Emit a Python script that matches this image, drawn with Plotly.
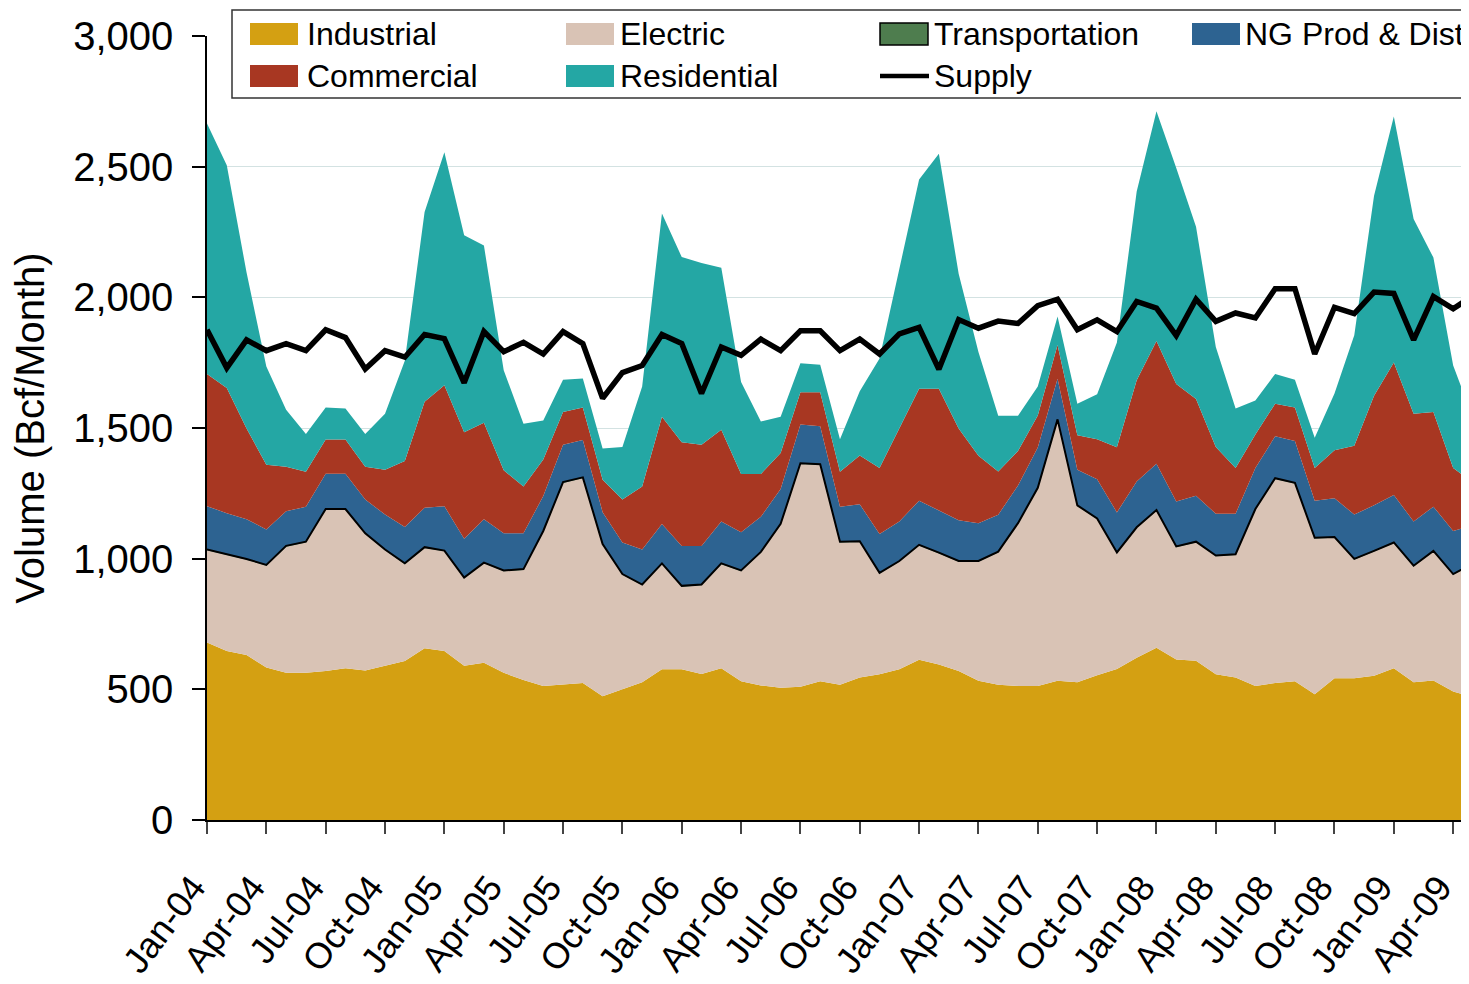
import plotly.graph_objects as go

FONT = "Liberation Sans, Arial, sans-serif"

MONTHS = [f"{m}-{y:02d}" for y in range(4, 10)
          for m in ["Jan", "Feb", "Mar", "Apr", "May", "Jun",
                    "Jul", "Aug", "Sep", "Oct", "Nov", "Dec"]][:65]

# Bcf per month, Jan-04 .. May-09
industrial = [679, 647, 631, 584, 563, 563, 570, 581, 572, 590, 608, 657,
              647, 590, 602, 563, 536, 513, 518, 524, 474, 501, 527, 577,
              577, 559, 581, 531, 515, 506, 510, 531, 518, 545, 558, 577,
              613, 595, 570, 533, 518, 513, 513, 533, 527, 554, 578, 621,
              659, 614, 609, 558, 545, 513, 524, 531, 481, 542, 542, 552,
              581, 527, 534, 492, 470]
electric = [353, 367, 365, 389, 483, 499, 617, 606, 522, 442, 371, 384,
            381, 335, 380, 389, 421, 590, 772, 784, 579, 437, 371, 402,
            316, 339, 398, 421, 508, 624, 852, 827, 544, 519, 385, 411,
            437, 425, 418, 455, 506, 620, 755, 997, 674, 597, 443, 496,
            524, 430, 453, 451, 469, 674, 781, 756, 596, 538, 454, 475,
            478, 443, 493, 446, 508]
transportation = [3, 3, 3, 3, 3, 3, 3, 3, 3, 3, 3, 3,
                  3, 3, 3, 3, 3, 3, 3, 3, 3, 3, 3, 3,
                  3, 3, 3, 3, 3, 3, 3, 3, 3, 3, 3, 3,
                  3, 3, 3, 3, 3, 3, 3, 3, 3, 3, 3, 3,
                  3, 3, 3, 3, 3, 3, 3, 3, 3, 3, 3, 3,
                  3, 3, 3, 3, 3]
ng_prod_dist = [166, 157, 152, 136, 132, 134, 135, 135, 129, 134, 139, 151,
                170, 148, 166, 142, 137, 134, 143, 143, 122, 121, 134, 151,
                152, 147, 160, 146, 134, 134, 148, 146, 134, 141, 148, 151,
                169, 160, 156, 145, 141, 144, 154, 155, 136, 150, 153, 175,
                177, 172, 176, 160, 155, 157, 160, 160, 142, 148, 170, 174,
                182, 169, 169, 165, 147]
commercial = [506, 479, 347, 247, 171, 134, 131, 131, 126, 171, 253, 405,
              463, 408, 369, 241, 179, 139, 125, 124, 124, 164, 241, 410,
              397, 388, 351, 223, 164, 137, 124, 130, 134, 187, 253, 356,
              428, 467, 351, 258, 166, 132, 123, 130, 132, 153, 249, 388,
              470, 449, 370, 255, 175, 128, 125, 128, 125, 184, 263, 419,
              507, 413, 362, 241, 163]
residential = [958, 852, 597, 376, 218, 144, 122, 119, 125, 215, 383, 727,
               891, 754, 678, 383, 240, 150, 124, 111, 120, 201, 383, 778,
               709, 695, 620, 352, 201, 139, 111, 105, 124, 246, 419, 615,
               801, 899, 592, 397, 213, 135, 111, 109, 121, 172, 401, 722,
               879, 827, 659, 383, 228, 130, 114, 107, 116, 217, 423, 766,
               941, 745, 591, 392, 247]
supply = [1876, 1730, 1837, 1796, 1823, 1796, 1876, 1846, 1726, 1796, 1771, 1858,
          1842, 1673, 1869, 1792, 1828, 1783, 1869, 1823, 1614, 1712, 1739, 1858,
          1823, 1632, 1810, 1778, 1840, 1796, 1872, 1872, 1796, 1840, 1783, 1860,
          1885, 1725, 1915, 1882, 1909, 1900, 1968, 1993, 1876, 1914, 1869, 1984,
          1959, 1854, 1993, 1908, 1940, 1921, 2033, 2033, 1783, 1962, 1938, 2020,
          2015, 1837, 2003, 1956, 2007]

SERIES = [
    ("Industrial", industrial, "#D4A012"),
    ("Electric", electric, "#D9C3B5"),
    ("Transportation", transportation, "#4E7D4E"),
    ("NG Prod & Dist", ng_prod_dist, "#2D6391"),
    ("Commercial", commercial, "#A83722"),
    ("Residential", residential, "#24A7A4"),
]

fig = go.Figure()
for name, vals, color in SERIES:
    is_tr = name == "Transportation"
    fig.add_trace(go.Scatter(
        x=MONTHS, y=vals, name=name, stackgroup="use",
        mode="lines", fillcolor=color,
        line=dict(color="black" if is_tr else color, width=2 if is_tr else 0),
        showlegend=False,
    ))
fig.add_trace(go.Scatter(
    x=MONTHS, y=supply, name="Supply", mode="lines",
    line=dict(color="black", width=5.5), showlegend=False,
))

# page body adds an 8px margin, so the figure is laid out 8px smaller
OFF = 8
FIG_W, FIG_H = 1469 - OFF, 984 - OFF
L, T, W, H = 207 - OFF, 36 - OFF, 1262, 784


def px(x):
    return (x - OFF - L) / W


def py(y):
    return (T + H - (y - OFF)) / H


# hand-built legend box (reference pixel positions)
shapes = [dict(type="rect", xref="paper", yref="paper",
               x0=px(232), x1=px(1490), y0=py(98), y1=py(10),
               line=dict(color="#333333", width=1.5), fillcolor="white", layer="above")]
annotations = []
# swatch left edge, text left edge, row centre
legend_pos = {
    "Industrial": (250, 305, 34), "Electric": (566, 618, 34),
    "Transportation": (880, 932, 34), "NG Prod & Dist": (1192, 1243, 34),
    "Commercial": (250, 305, 76), "Residential": (566, 618, 76),
    "Supply": (880, 932, 76),
}
for name, vals, color in SERIES:
    x0, _, yc = legend_pos[name]
    shapes.append(dict(type="rect", xref="paper", yref="paper", layer="above",
                       x0=px(x0), x1=px(x0 + 48), y0=py(yc + 11), y1=py(yc - 11),
                       fillcolor=color,
                       line=dict(color="black", width=1.5) if name == "Transportation"
                       else dict(width=0)))
x0, _, yc = legend_pos["Supply"]
shapes.append(dict(type="line", xref="paper", yref="paper", layer="above",
                   x0=px(x0), x1=px(x0 + 49), y0=py(yc), y1=py(yc),
                   line=dict(color="black", width=4.5)))
for name, (_, xt, yc) in legend_pos.items():
    annotations.append(dict(text=name, xref="paper", yref="paper",
                            x=px(xt), y=py(yc), xanchor="left", yanchor="middle",
                            showarrow=False, font=dict(size=32, color="black", family=FONT)))

fig.update_layout(
    width=FIG_W, height=FIG_H,
    margin=dict(l=L, r=FIG_W - L - W, t=T, b=FIG_H - T - H),
    paper_bgcolor="white", plot_bgcolor="white",
    font=dict(family=FONT, color="black"),
    showlegend=False,
    shapes=shapes, annotations=annotations,
    xaxis=dict(
        type="category", range=[0, 63.8], automargin=False,
        tickmode="array", tickvals=MONTHS[::3], ticktext=MONTHS[::3],
        tickangle=-53, tickfont=dict(size=36),
        ticks="outside", ticklen=12, tickwidth=1.5, tickcolor="#444",
        showline=True, linecolor="black", linewidth=1.5,
        showgrid=False, ticklabelstandoff=18, ticklabelshift=-14,
    ),
    yaxis=dict(
        range=[0, 3000], tickvals=[0, 500, 1000, 1500, 2000, 2500, 3000],
        tickformat=",", tickfont=dict(size=40), automargin=False,
        ticks="outside", ticklen=13, tickwidth=1.5, tickcolor="black",
        showline=True, linecolor="black", linewidth=1.5,
        showgrid=True, gridcolor="#D3E2E2", gridwidth=1,
        ticklabelstandoff=11,
        title=dict(text="Volume (Bcf/Month)", font=dict(size=40), standoff=29),
    ),
)

fig.write_html("out.html")
